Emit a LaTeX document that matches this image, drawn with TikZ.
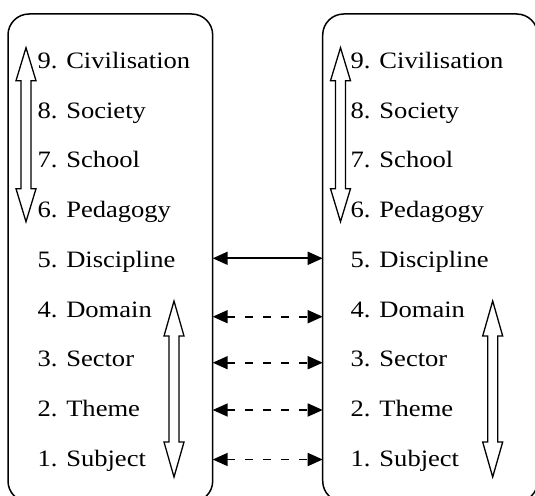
\documentclass[tikz,border=0pt]{standalone}
\usepackage{fontspec}
\setmainfont{Liberation Serif}[FakeStretch=1.13]
\usetikzlibrary{arrows.meta}
\newcommand\hollowdbl[4]{%
  \draw[blockarrow] (#1,#2) -- (#1+10,#2+#4) -- (#1+5,#2+#4) -- (#1+5,#3-#4)
    -- (#1+10,#3-#4) -- (#1,#3) -- (#1-10,#3-#4) -- (#1-5,#3-#4)
    -- (#1-5,#2+#4) -- (#1-10,#2+#4) -- cycle;}
\begin{document}
\begin{tikzpicture}[x=1pt,y=-1pt,
  box/.style={draw, line width=1.5pt, rounded corners=21pt, anchor=north west, inner sep=0pt, outer sep=0pt},
  lbl/.style={anchor=base west, inner sep=0pt, font=\fontsize{23.5}{28}\selectfont},
  conn/.style={line width=1.7pt, {Triangle[length=15pt,width=13pt]}-{Triangle[length=15pt,width=13pt]}},
  dashconn/.style={conn, dash pattern=on 8pt off 10pt},
  blockarrow/.style={draw, line width=1.3pt, fill=white}]
\useasboundingbox (0,0) rectangle (535,495);
\clip (0,0) rectangle (535,495);
\node[box, minimum width=204.7pt, minimum height=488pt] (Lbox) at (8,14) {};
\node[box, minimum width=215pt, minimum height=488pt] (Rbox) at (322.7,14) {};
% left labels
\node[lbl] (L9) at (37.3,68.5) {9. Civilisation};
\node[lbl] (L8) at (37.3,118.2) {8. Society};
\node[lbl] (L7) at (37.3,167.9) {7. School};
\node[lbl] (L6) at (37.3,217.6) {6. Pedagogy};
\node[lbl] (L5) at (37.3,267.3) {5. Discipline};
\node[lbl] (L4) at (37.3,317.0) {4. Domain};
\node[lbl] (L3) at (37.3,366.7) {3. Sector};
\node[lbl] (L2) at (37.3,416.4) {2. Theme};
\node[lbl] (L1) at (37.3,466.0) {1. Subject};
% right labels
\node[lbl] (R9) at (350.5,68.5) {9. Civilisation};
\node[lbl] (R8) at (350.5,118.2) {8. Society};
\node[lbl] (R7) at (350.5,167.9) {7. School};
\node[lbl] (R6) at (350.5,217.6) {6. Pedagogy};
\node[lbl] (R5) at (350.5,267.3) {5. Discipline};
\node[lbl] (R4) at (350.5,317.0) {4. Domain};
\node[lbl] (R3) at (350.5,366.7) {3. Sector};
\node[lbl] (R2) at (350.5,416.4) {2. Theme};
\node[lbl] (R1) at (350.5,466.0) {1. Subject};
% block arrows
\hollowdbl{26}{47.7}{221.7}{33}
\hollowdbl{340.5}{47.7}{221.7}{33}
\hollowdbl{174}{301}{477}{35}
\hollowdbl{492.7}{301}{477}{35}
% connectors
\draw[conn] (Lbox.east |- 0,258.3) -- (Rbox.west |- 0,258.3);
\draw[dashconn] (Lbox.east |- 0,316.7) -- (Rbox.west |- 0,316.7);
\draw[dashconn] (Lbox.east |- 0,362.7) -- (Rbox.west |- 0,362.7);
\draw[dashconn] (Lbox.east |- 0,410.0) -- (Rbox.west |- 0,410.0);
\draw[dashconn] (Lbox.east |- 0,459.5) -- (Rbox.west |- 0,459.5);
\end{tikzpicture}
\end{document}
